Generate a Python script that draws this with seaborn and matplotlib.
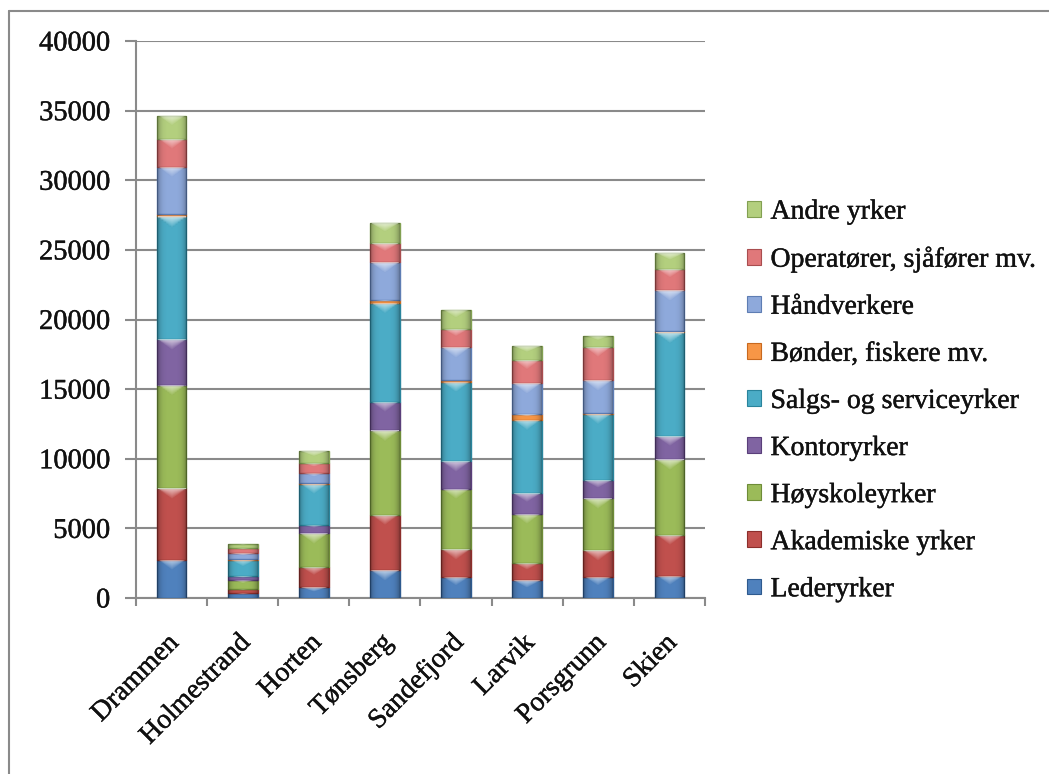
import numpy as np
import pandas as pd
import matplotlib
matplotlib.use("Agg")
import matplotlib.pyplot as plt
from matplotlib.patches import Patch
from matplotlib.lines import Line2D
from matplotlib.transforms import ScaledTranslation
import matplotlib.patheffects as pe
import seaborn as sns

# Municipalities and employment counts by occupation group
kommuner = ["Drammen", "Holmestrand", "Horten", "Tønsberg", "Sandefjord",
            "Larvik", "Porsgrunn", "Skien"]

lederyrker = [2750, 360, 770, 1990, 1510, 1270, 1530, 1580]
akademiske = [5150, 300, 1480, 3970, 1980, 1240, 1910, 2970]
hoyskole = [7430, 650, 2390, 6070, 4360, 3540, 3710, 5450]
kontor = [3280, 240, 600, 2040, 1960, 1490, 1290, 1630]
salg_service = [8790, 1200, 2960, 7130, 5710, 5260, 4740, 7460]
bonder = [150, 50, 50, 200, 150, 430, 100, 120]
handverkere = [3380, 400, 720, 2710, 2340, 2200, 2340, 2880]
operatorer = [2040, 360, 720, 1360, 1320, 1680, 2390, 1560]
andre = [1670, 350, 860, 1430, 1370, 980, 820, 1120]

serier = ["Lederyrker", "Akademiske yrker", "Høyskoleyrker", "Kontoryrker",
          "Salgs- og serviceyrker", "Bønder, fiskere mv.", "Håndverkere",
          "Operatører, sjåfører mv.", "Andre yrker"]
verdier = [lederyrker, akademiske, hoyskole, kontor, salg_service, bonder,
           handverkere, operatorer, andre]
farger = ["#4F81BD", "#C0504D", "#9BBB59", "#8064A2", "#4BACC6", "#F79646",
          "#8EA9DB", "#E0787A", "#B3CF7E"]
kanter = ["#2E5A8E", "#8C2E2B", "#6E8C38", "#5A3F7A", "#2A849C", "#C8691F",
          "#5E7DB3", "#A94D4F", "#82A052"]

df = pd.DataFrame(dict(zip(serier, verdier)), index=kommuner)

sns.set_style("white")
plt.rcParams["font.family"] = ["Liberation Serif", "DejaVu Serif"]
tyngre = [pe.withStroke(linewidth=0.3, foreground="#111111")]

fig = plt.figure(figsize=(10.49, 7.74), dpi=100)
ax = fig.add_axes([0.1296, 0.2274, 0.5425, 0.7196])

bunn = np.zeros(len(kommuner))
for navn, farge, kant in zip(serier, farger, kanter):
    sns.barplot(x=kommuner, y=df[navn].values, color=farge, ax=ax,
                width=0.42, bottom=bunn, edgecolor=kant, linewidth=1.0,
                saturation=1, zorder=3)
    bunn = bunn + df[navn].values

ymax = 40000
ax.set_ylim(0, ymax)
ax.set_xlim(-0.5, len(kommuner) - 0.5)

# Bevel shading on each segment: darker sides, light chevron at the top
fig.canvas.draw()
px_per_unit = ax.get_window_extent().height / ymax
nx, ny = 40, 60
u = np.linspace(-1, 1, nx)
for bar in list(ax.patches):
    x0, y0 = bar.get_x(), bar.get_y()
    w, h = bar.get_width(), bar.get_height()
    if h <= 0:
        continue
    h_px = h * px_per_unit
    d = np.linspace(0, h_px, ny)[:, None]          # px from the top
    side = 0.30 * np.abs(u)[None, :] ** 4
    chevron_depth = min(11.0, 0.45 * h_px) * (1 - np.abs(u))[None, :]
    glow = np.clip(1 - d / np.maximum(chevron_depth, 1e-6), 0, 1) * 0.65
    glow = np.where(chevron_depth > 0.5, glow, 0)
    rgba = np.zeros((ny, nx, 4))
    alpha = glow + side * (1 - glow)
    rgba[..., :3] = (glow / np.maximum(alpha, 1e-6))[..., None]
    rgba[..., 3] = alpha
    im = ax.imshow(rgba, extent=[x0, x0 + w, y0, y0 + h], origin="upper",
                   aspect="auto", interpolation="bilinear", zorder=4)
    im.set_clip_path(bar)

ax.set_ylim(0, ymax)
ax.set_xlim(-0.5, len(kommuner) - 0.5)
ax.set_yticks(np.arange(0, ymax + 1, 5000))
ax.yaxis.grid(True, color="#8a8a8a", linewidth=1.5, zorder=0)
ax.set_axisbelow(True)

for side in ["top", "right"]:
    ax.spines[side].set_visible(False)
for side in ["left", "bottom"]:
    ax.spines[side].set_color("#8a8a8a")
    ax.spines[side].set_linewidth(1.5)

ax.tick_params(axis="y", which="major", left=True, length=8, width=1.5,
               color="#8a8a8a", labelsize=20.5, pad=10.5)
ax.set_yticklabels([str(v) for v in range(0, ymax + 1, 5000)])

# Category labels under the bars, tick marks between categories
ax.set_xticks(range(len(kommuner)))
ax.set_xticklabels(kommuner, rotation=45, ha="right", rotation_mode="anchor",
                   fontsize=20)
ax.tick_params(axis="x", which="major", length=0, pad=16)
ax.set_xticks(np.arange(-0.5, len(kommuner), 1), minor=True)
ax.tick_params(axis="x", which="minor", bottom=True, length=6, width=1.5,
               color="#8a8a8a")
ax.set_xlabel("")
ax.set_ylabel("")
skift = ScaledTranslation(-0.05, -0.10, fig.dpi_scale_trans)
for t in ax.get_xticklabels():
    t.set_transform(t.get_transform() + skift)
for t in ax.get_xticklabels() + ax.get_yticklabels():
    t.set_path_effects(tyngre)
    t.set_color("#111111")

handles = [Patch(facecolor=f, edgecolor=k, linewidth=0.8)
           for f, k in zip(farger, kanter)][::-1]
leg = fig.legend(handles, serier[::-1], loc="upper left",
                 bbox_to_anchor=(0.712, 0.742), frameon=False, fontsize=20,
                 handlelength=0.5, handleheight=0.5, handletextpad=0.35,
                 labelspacing=0.795, borderaxespad=0, borderpad=0)
for t in leg.get_texts():
    t.set_path_effects(tyngre)
    t.set_color("#111111")

# Chart frame (top and left edges)
fig.add_artist(Line2D([0.0085, 1.0], [0.986, 0.986], transform=fig.transFigure,
                      color="#8a8a8a", linewidth=1.5))
fig.add_artist(Line2D([0.0085, 0.0085], [0.0, 0.986], transform=fig.transFigure,
                      color="#8a8a8a", linewidth=1.5))

fig.savefig("out.png", dpi=100)
